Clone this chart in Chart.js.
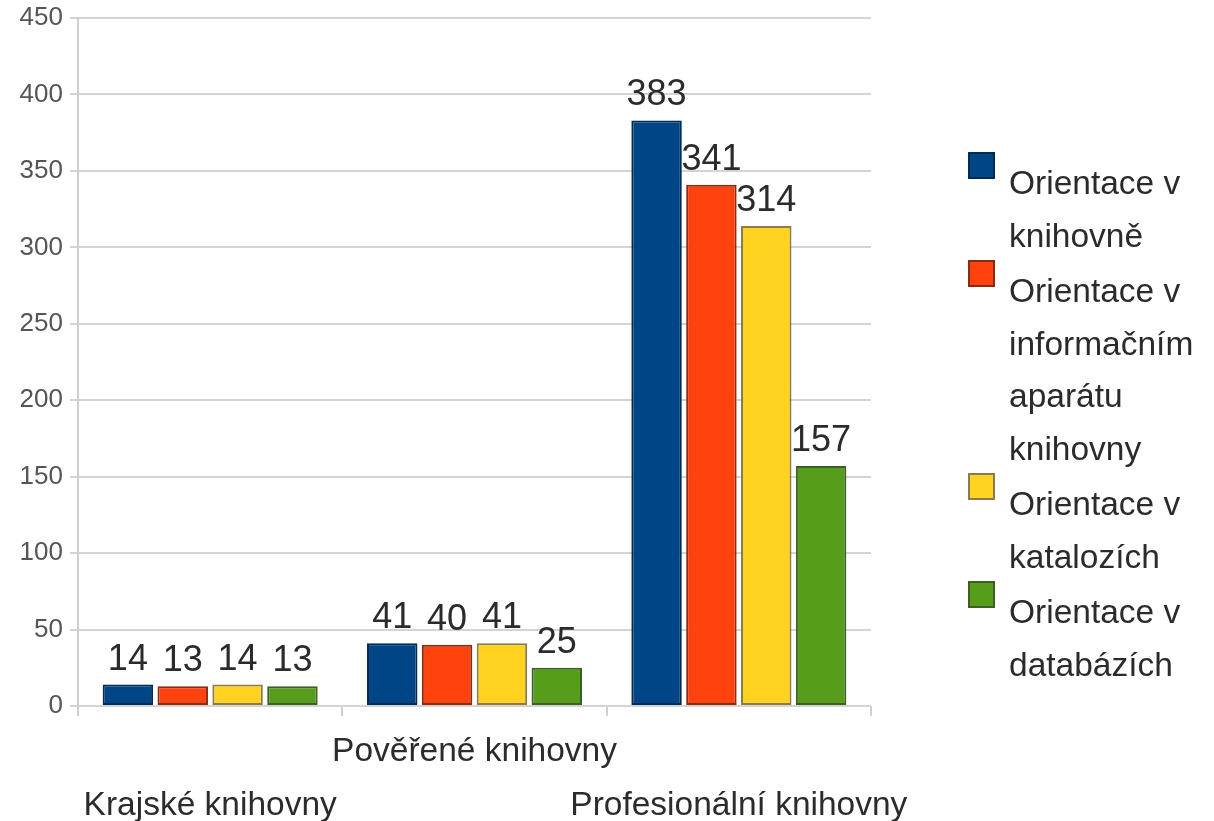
<!DOCTYPE html>
<html>
<head>
<meta charset="utf-8">
<script src="https://cdn.jsdelivr.net/npm/chart.js@4"></script>
<style>
  html, body { margin: 0; padding: 0; background: #fff; overflow: hidden; }
  #obal { width: 1214px; height: 821px; }
</style>
</head>
<body>
<div id="obal"><canvas id="barChart"></canvas></div>
<script>
// kategorie - prazdny radek posouva popisek dolu / nahoru (stridani jako v originalu)
const kategorie = [['', 'Krajské knihovny'], ['Pověřené knihovny', ''], ['', 'Profesionální knihovny']];

const orientaceKnihovna = [14, 41, 383];
const orientaceAparat = [13, 40, 341];
const orientaceKatalogy = [14, 41, 314];
const orientaceDatabaze = [13, 25, 157];

const popiskyLegendy = [
  ['Orientace v', 'knihovně'],
  ['Orientace v', 'informačním', 'aparátu', 'knihovny'],
  ['Orientace v', 'katalozích'],
  ['Orientace v', 'databázích']
];

const osaYMax = 450;
const osaYKrok = 50;

const barvy = ['#004586', '#ff420e', '#ffd320', '#579d1c'];
const okraje = ['#002b55', '#8a2a12', '#8c7a4a', '#3d5e25'];

const pismo = '"Liberation Sans", Arial, sans-serif';

// hodnoty nad sloupci
const hodnotyNadSloupci = {
  id: 'hodnotyNadSloupci',
  afterDatasetsDraw(chart) {
    const ctx = chart.ctx;
    ctx.save();
    ctx.font = '36px ' + pismo;
    ctx.fillStyle = '#2b2b2b';
    ctx.textAlign = 'center';
    ctx.textBaseline = 'alphabetic';
    chart.data.datasets.forEach(function (ds, i) {
      chart.getDatasetMeta(i).data.forEach(function (bar, j) {
        ctx.fillText(String(ds.data[j]), bar.x, bar.y - 15);
      });
    });
    ctx.restore();
  }
};

// legenda vpravo, popisky na vice radku
const legendaVpravo = {
  id: 'legendaVpravo',
  afterDraw(chart) {
    const ctx = chart.ctx;
    const x0 = chart.chartArea.right + 98;
    const radek = 52.5;
    let y = 185;
    ctx.save();
    ctx.font = '33.5px ' + pismo;
    ctx.textBaseline = 'middle';
    ctx.textAlign = 'left';
    chart.data.datasets.forEach(function (ds, i) {
      ctx.fillStyle = ds.backgroundColor;
      ctx.fillRect(x0, y - 32, 25, 25);
      ctx.strokeStyle = ds.borderColor;
      ctx.lineWidth = 2;
      ctx.strokeRect(x0, y - 32, 25, 25);
      ctx.fillStyle = '#2b2b2b';
      ds.label.forEach(function (txt) {
        ctx.fillText(txt, x0 + 40, y);
        y += radek;
      });
      y += 3;
    });
    ctx.restore();
  }
};

const serie = [orientaceKnihovna, orientaceAparat, orientaceKatalogy, orientaceDatabaze];

new Chart(document.getElementById('barChart'), {
  type: 'bar',
  data: {
    labels: kategorie,
    datasets: serie.map(function (data, i) {
      return {
        label: popiskyLegendy[i],
        data: data,
        backgroundColor: barvy[i],
        borderColor: okraje[i],
        borderWidth: 2,
        borderSkipped: false,
        categoryPercentage: 0.83,
        barPercentage: 0.92
      };
    })
  },
  options: {
    responsive: true,
    maintainAspectRatio: false,
    animation: false,
    layout: { padding: { top: 0, right: 343, left: 0, bottom: 0 } },
    plugins: {
      legend: { display: false },
      tooltip: { enabled: false }
    },
    scales: {
      x: {
        afterFit: function (scale) { scale.height = 115; },
        grid: {
          offset: true,
          drawOnChartArea: true,
          color: function (c) { return c.index === kategorie.length ? '#cfcfcf' : 'rgba(0,0,0,0)'; },
          tickColor: '#cfcfcf',
          tickLength: 10,
          lineWidth: 2
        },
        border: { display: false },
        ticks: {
          autoSkip: false,
          maxRotation: 0,
          minRotation: 0,
          padding: 9,
          color: '#2b2b2b',
          font: { family: pismo, size: 33.5, lineHeight: 1.6 }
        }
      },
      y: {
        min: 0,
        max: osaYMax,
        afterFit: function (scale) { scale.width = 78; },
        grid: {
          color: '#d4d4d4',
          tickColor: '#d4d4d4',
          tickLength: 8,
          lineWidth: 2
        },
        border: { color: '#cfcfcf', width: 2 },
        ticks: {
          stepSize: osaYKrok,
          padding: 7,
          color: '#555',
          font: { family: pismo, size: 26, lineHeight: 0.85 }
        }
      }
    }
  },
  plugins: [hodnotyNadSloupci, legendaVpravo]
});
</script>
</body>
</html>
